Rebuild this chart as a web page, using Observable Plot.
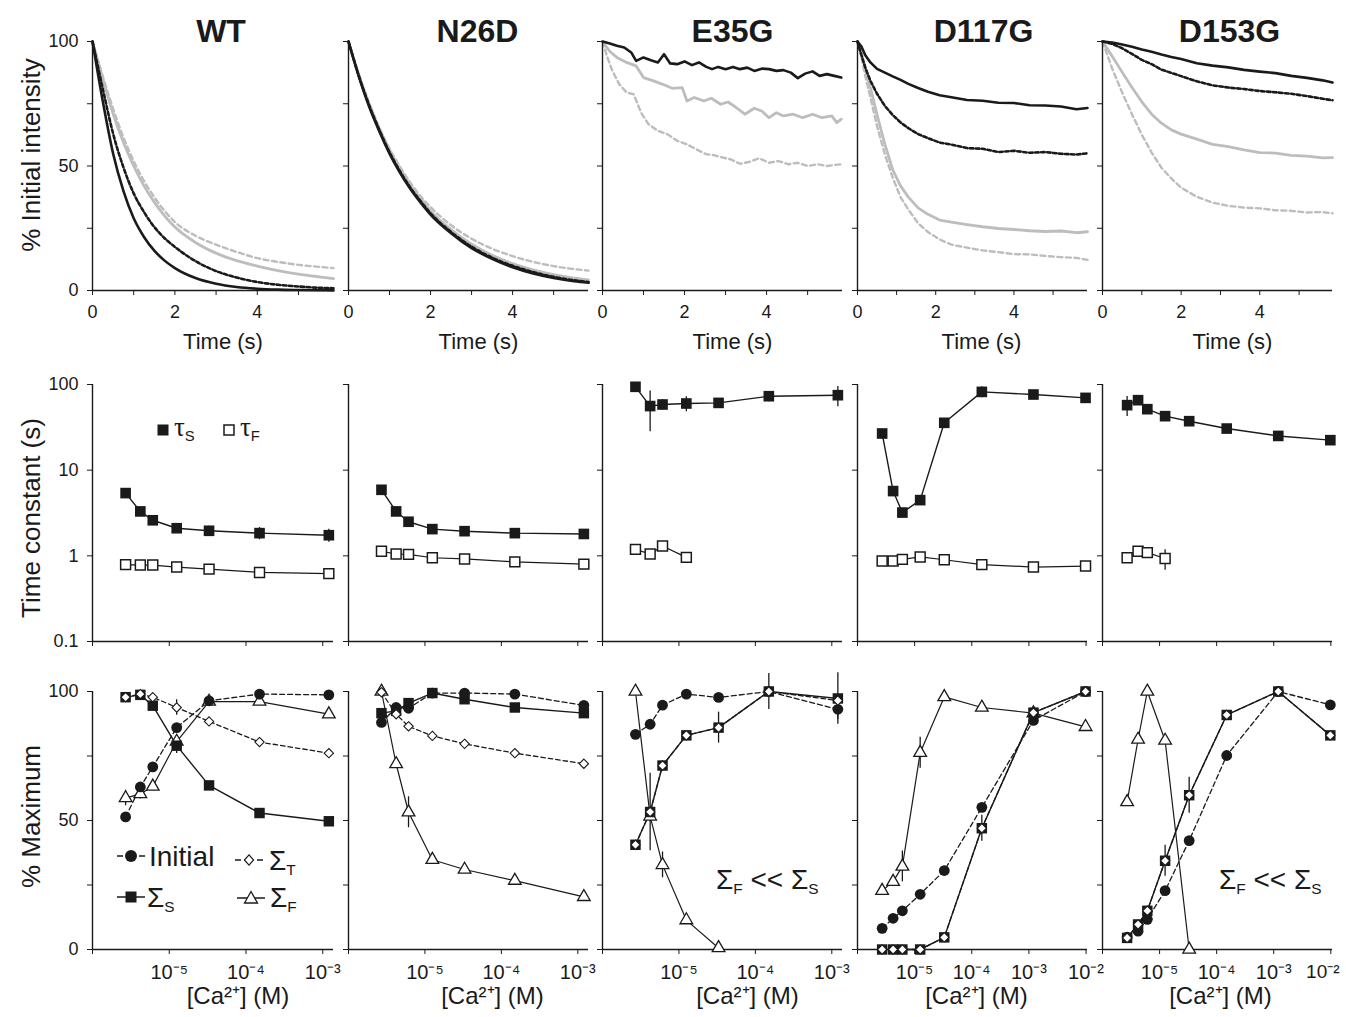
<!DOCTYPE html>
<html>
<head>
<meta charset="utf-8">
<script src="https://cdn.jsdelivr.net/npm/d3@7"></script>
<script src="https://cdn.jsdelivr.net/npm/@observablehq/plot@0.6"></script>
<style>
html,body{margin:0;padding:0;background:#fff;}
#fig{position:relative;width:1346px;height:1017px;overflow:hidden;background:#fff;font-family:"Liberation Sans",Arial,Helvetica,sans-serif;color:#1a1a1a;}
.lab{position:absolute;white-space:nowrap;}
.lab .sub{font-size:0.55em;position:relative;top:0.32em;}
</style>
</head>
<body>
<div id="fig"></div>
<script>
// ---------------- labels / ticks ----------------
const panelNames = ["WT", "N26D", "E35G", "D117G", "D153G"];
const timeTicks = [0, 1, 2, 3, 4, 5];
const timeTickLabels = ["0", "", "2", "", "4", ""];
const pctTicks = [0, 25, 50, 75, 100];
const pctTickLabels = ["0", "", "50", "", "100"];
const tauTicks = [0.1, 1, 10, 100];
const tauTickLabels = ["0.1", "1", "10", "100"];
const caTicks = [1e-6, 1e-5, 1e-4, 1e-3, 1e-2];
const caTickLabels = ["", "10⁻⁵", "10⁻⁴", "10⁻³", "10⁻²"];

// ---------------- top row: % initial intensity vs time ----------------
const smoothT = [0, 0.25, 0.5, 0.75, 1, 1.25, 1.5, 1.75, 2, 2.5, 3, 3.5, 4, 4.5, 5, 5.5, 5.85];
const wtBlackSolid = [100, 76, 55, 40, 29, 21.5, 16, 12, 9, 5, 2.7, 1.4, 0.7, 0.35, 0.2, 0.1, 0.05];
const wtBlackDashed = [100, 81, 63, 49.5, 39, 31.5, 25.5, 21, 17.5, 11.8, 7.8, 5.2, 3.4, 2.3, 1.6, 1.1, 0.9];
const wtGraySolid = [100, 85, 71, 59.5, 50, 42, 35.5, 30, 25.5, 19.3, 15, 12, 9.8, 8, 6.6, 5.5, 4.8];
const wtGrayDashed = [100, 86, 73, 61.5, 52, 44, 37.5, 32, 27.5, 22, 18.4, 15.5, 13, 11.5, 10.3, 9.5, 9];

const n26dBlackSolid = [100, 86, 74, 64, 55, 47.5, 41, 35.5, 30.5, 23, 17, 12.7, 9.3, 6.8, 5, 3.7, 3.1];
const n26dBlackDashed = [100, 86.3, 74.5, 64.5, 55.5, 48, 41.5, 36, 31, 23.5, 17.6, 13.2, 9.9, 7.4, 5.5, 4.1, 3.4];
const n26dGraySolid = [100, 86.5, 75, 65, 56.5, 49, 42.5, 37, 32, 24.5, 18.6, 14.2, 10.8, 8.3, 6.4, 5, 4.3];
const n26dGrayDashed = [100, 87, 75.5, 65.5, 57, 49.8, 43.5, 38, 33.5, 26.2, 20.8, 16.8, 13.8, 11.5, 9.8, 8.6, 8];

const e35gBlackT = [0, 0.18, 0.35, 0.53, 0.7, 0.82, 1.0, 1.18, 1.35, 1.5, 1.65, 1.82, 2.0, 2.18, 2.35, 2.53, 2.67, 2.82, 3.0, 3.18, 3.35, 3.53, 3.7, 3.88, 4.06, 4.24, 4.41, 4.59, 4.76, 4.94, 5.12, 5.29, 5.47, 5.65, 5.82];
const e35gBlackSolid = [100, 99.2, 98.3, 97.6, 95.6, 92.2, 93.6, 92.5, 91.6, 94.9, 91.2, 90.9, 92, 90.5, 91.6, 89.8, 88.9, 89.8, 88.9, 89.8, 88.9, 89.5, 88.2, 89.1, 88.9, 88.2, 88.5, 87.5, 85.3, 87.1, 88, 86.2, 86.9, 86.2, 85.5];
const e35gGraySolidT = [0, 0.18, 0.35, 0.6, 0.82, 1.0, 1.24, 1.47, 1.7, 1.94, 2.06, 2.24, 2.47, 2.65, 2.88, 3.06, 3.24, 3.47, 3.7, 3.88, 4.06, 4.24, 4.41, 4.65, 4.88, 5.12, 5.35, 5.59, 5.71, 5.82];
const e35gGraySolid = [100, 96, 93.6, 91.5, 90.2, 85.5, 84.2, 82.8, 81.2, 81.5, 76.1, 77.5, 76.1, 77.2, 74.8, 75.7, 73.7, 70.8, 73.2, 72.1, 69.4, 71.4, 70.1, 70.8, 69.4, 70.8, 69.4, 70.1, 67.4, 68.8];
const e35gGrayDashedT = [0, 0.12, 0.24, 0.41, 0.59, 0.76, 0.94, 1.12, 1.35, 1.59, 1.82, 2.06, 2.29, 2.53, 2.71, 2.88, 3.12, 3.35, 3.59, 3.82, 4.06, 4.29, 4.53, 4.76, 5.0, 5.24, 5.47, 5.65, 5.82];
const e35gGrayDashed = [100, 93.6, 88.2, 82.8, 79.5, 78.8, 71.4, 66.8, 64.1, 62.7, 60.1, 58.7, 56.7, 54.7, 54.4, 53.6, 52.7, 50.9, 51.7, 53.1, 51.3, 52, 50.7, 51.3, 50, 50.7, 50, 50.4, 50.7];

const d117gT = [0, 0.1, 0.2, 0.33, 0.5, 0.7, 0.9, 1.1, 1.3, 1.55, 1.8, 2.1, 2.4, 2.8, 3.2, 3.6, 4.0, 4.4, 4.8, 5.2, 5.6, 5.88];
const d117gBlackSolid = [100, 98, 94.5, 91.6, 89, 87.5, 86, 84.6, 83, 81.3, 79.8, 78.4, 77.6, 76.5, 76.2, 75.4, 75.3, 74.4, 74.3, 73.9, 72.8, 73.3];
const d117gBlackDashed = [100, 94.5, 89.5, 84.2, 79, 74.1, 70.5, 67.5, 65.2, 62.8, 61.2, 59.4, 58.6, 57.2, 56.9, 55.6, 56.1, 55.3, 55.6, 54.9, 54.6, 55.1];
const d117gGraySolid = [100, 95.5, 89, 81.5, 70.5, 58.7, 48.5, 42, 37.5, 33.2, 30.6, 28.3, 27.5, 26.5, 25.6, 24.9, 24.5, 24.0, 23.7, 23.9, 23.2, 23.6];
const d117gGrayDashed = [100, 94, 86, 77.5, 66, 54.7, 45.3, 37.5, 32.5, 27, 23.5, 20.5, 18.4, 17.2, 16.1, 15.4, 14.6, 14.5, 13.9, 13.4, 13.1, 12.3];

const d153gT = [0, 0.25, 0.5, 0.75, 1.0, 1.25, 1.5, 1.75, 2.0, 2.4, 2.8, 3.2, 3.6, 4.0, 4.4, 4.8, 5.2, 5.6, 5.85];
const d153gBlackSolid = [100, 99.6, 98.8, 97.9, 96.8, 95.9, 94.8, 93.8, 93.0, 91.3, 90.3, 89.6, 88.6, 87.9, 87.3, 86.2, 85.4, 84.4, 83.5];
const d153gBlackDashed = [100, 99, 97.3, 95, 92.6, 90.9, 88.7, 87.4, 86.1, 84, 82.4, 81.5, 80.9, 80.1, 79.6, 79, 78.1, 77, 76.4];
const d153gGraySolid = [100, 94, 87.7, 81.5, 75.8, 70.8, 67.2, 64.5, 62.8, 60.8, 58.7, 57.8, 56.5, 55.4, 55.2, 54.3, 54.0, 53.3, 53.4];
const d153gGrayDashed = [100, 89, 79.5, 70.8, 62.5, 55.4, 49.3, 45, 41.3, 37.6, 35.3, 34, 33.3, 33, 32.2, 32, 31.3, 31.5, 31];

// ---------------- middle row: time constants vs [Ca2+] ----------------
const caConc = [2.7e-6, 4.2e-6, 6.1e-6, 1.25e-5, 3.3e-5, 1.5e-4, 1.2e-3, 9.8e-3];
const wtTauS = [5.4, 3.3, 2.6, 2.1, 1.96, 1.84, 1.74];
const wtTauSErr = [0, 0, 0, 0.12, 0.25, 0.3, 0.3];
const wtTauF = [0.79, 0.78, 0.78, 0.74, 0.70, 0.64, 0.62];
const n26dTauS = [5.9, 3.3, 2.5, 2.05, 1.94, 1.84, 1.8];
const n26dTauF = [1.13, 1.05, 1.04, 0.95, 0.92, 0.85, 0.80];
const e35gTauS = [94, 56, 58.4, 60, 61, 73, 75];
const e35gTauSErr = [0, 28, 8, 12, 0, 10, 20];
const e35gTauF = [1.19, 1.05, 1.30, 0.96];
const e35gTauFErr = [0, 0.1, 0.12, 0];
const d117gTauS = [26.8, 5.7, 3.2, 4.47, 35.7, 82, 76.4, 69.8];
const d117gTauSErr = [0, 0, 0, 0, 0, 12, 0, 0];
const d117gTauF = [0.87, 0.87, 0.91, 0.97, 0.90, 0.79, 0.74, 0.76];
const d153gTauS = [57.4, 65.6, 51.5, 42.7, 37.3, 30.6, 25.1, 22.4];
const d153gTauSErr = [15, 0, 0, 0, 0, 0, 0, 0];
const d153gTauF = [0.95, 1.13, 1.09, 0.93];
const d153gTauFErr = [0, 0, 0.15, 0.25];

// ---------------- bottom row: % maximum vs [Ca2+] ----------------
const wtInitial = [51.4, 63, 70.8, 86, 96.4, 99, 98.7];
const wtSigS = [97.8, 98.7, 94.5, 79, 63.6, 52.9, 49.7];
const wtSigSErr = [0, 0, 0, 3, 0, 0, 0];
const wtSigT = [97.8, 99, 97.8, 93.8, 88.4, 80.4, 76.1];
const wtSigTErr = [0, 0, 0, 3, 0, 0, 0];
const wtSigF = [58.7, 60.3, 63.2, 80.6, 96.1, 96.1, 91.2];
const wtSigFErr = [3, 2, 0, 0, 0, 0, 0];
const n26dInitial = [88, 93.8, 93.5, 99.4, 99.4, 99, 94.6];
const n26dSigS = [91.6, 92.5, 95.5, 99.4, 97, 93.8, 91.6];
const n26dSigT = [99.7, 91.2, 86.5, 82.8, 79.7, 76.1, 72];
const n26dSigF = [100, 71.9, 53.2, 34.8, 31, 26.7, 20.4];
const n26dSigFErr = [0, 0, 6, 0, 0, 0, 0];
const e35gInitial = [83.4, 87.3, 94.7, 99, 97.7, 100, 93.1];
const e35gInitialErr = [0, 0, 0, 0, 0, 0, 4];
const e35gSigS = [40.6, 53.3, 71.3, 83, 86, 100, 97.3];
const e35gSigSErr = [0, 15, 0, 0, 6, 7, 10];
const e35gSigT = [40.6, 53.3, 71.3, 83, 86, 100, 96.5];
const e35gSigF = [100, 51.6, 32.8, 11.4, 0.6];
const e35gSigFErr = [0, 0, 5, 0, 0];
const d117gInitial = [8.2, 12.1, 15, 21.4, 30.6, 55.1, 88.8, 100];
const d117gSigS = [0, 0, 0, 0, 4.7, 47, 91.8, 100];
const d117gSigSErr = [0, 0, 0, 0, 0, 5, 0, 0];
const d117gSigT = [0, 0, 0, 0, 4.7, 47, 91.8, 100];
const d117gSigF = [22.8, 26.3, 32.2, 76.3, 97.9, 93.8, 91.6, 86.3];
const d117gSigFErr = [0, 0, 6, 6, 0, 0, 0, 0];
const d153gInitial = [4.8, 7.1, 11.7, 22.8, 42.2, 75.2, 100, 94.8];
const d153gSigS = [4.5, 9.7, 15, 34.4, 59.8, 90.9, 100, 83];
const d153gSigSErr = [0, 0, 0, 6, 7, 0, 0, 0];
const d153gSigT = [4.5, 9.7, 15, 34.4, 59.8, 90.9, 100, 83];
const d153gSigF = [57.2, 81.4, 100, 81, 0];

// ---------------- assemble ----------------
const topSeries = [
  [{t: smoothT, v: wtGrayDashed, kind: "grayDashed"}, {t: smoothT, v: wtGraySolid, kind: "graySolid"},
   {t: smoothT, v: wtBlackDashed, kind: "blackDashed"}, {t: smoothT, v: wtBlackSolid, kind: "blackSolid"}],
  [{t: smoothT, v: n26dGrayDashed, kind: "grayDashed"}, {t: smoothT, v: n26dGraySolid, kind: "graySolid"},
   {t: smoothT, v: n26dBlackDashed, kind: "blackDashed"}, {t: smoothT, v: n26dBlackSolid, kind: "blackSolid"}],
  [{t: e35gGrayDashedT, v: e35gGrayDashed, kind: "grayDashed"}, {t: e35gGraySolidT, v: e35gGraySolid, kind: "graySolid"},
   {t: e35gBlackT, v: e35gBlackSolid, kind: "blackSolid"}],
  [{t: d117gT, v: d117gGrayDashed, kind: "grayDashed"}, {t: d117gT, v: d117gGraySolid, kind: "graySolid"},
   {t: d117gT, v: d117gBlackDashed, kind: "blackDashed"}, {t: d117gT, v: d117gBlackSolid, kind: "blackSolid"}],
  [{t: d153gT, v: d153gGrayDashed, kind: "grayDashed"}, {t: d153gT, v: d153gGraySolid, kind: "graySolid"},
   {t: d153gT, v: d153gBlackDashed, kind: "blackDashed"}, {t: d153gT, v: d153gBlackSolid, kind: "blackSolid"}]
];
const smoothPanels = [true, true, false, false, false];

const tauSeries = [
  {s: wtTauS, sErr: wtTauSErr, f: wtTauF},
  {s: n26dTauS, f: n26dTauF},
  {s: e35gTauS, sErr: e35gTauSErr, f: e35gTauF, fErr: e35gTauFErr},
  {s: d117gTauS, sErr: d117gTauSErr, f: d117gTauF},
  {s: d153gTauS, sErr: d153gTauSErr, f: d153gTauF, fErr: d153gTauFErr}
];
const sumSeries = [
  {ini: wtInitial, S: wtSigS, SErr: wtSigSErr, T: wtSigT, TErr: wtSigTErr, F: wtSigF, FErr: wtSigFErr},
  {ini: n26dInitial, S: n26dSigS, T: n26dSigT, F: n26dSigF, FErr: n26dSigFErr},
  {ini: e35gInitial, iniErr: e35gInitialErr, S: e35gSigS, SErr: e35gSigSErr, T: e35gSigT, F: e35gSigF, FErr: e35gSigFErr},
  {ini: d117gInitial, S: d117gSigS, SErr: d117gSigSErr, T: d117gSigT, F: d117gSigF, FErr: d117gSigFErr},
  {ini: d153gInitial, S: d153gSigS, SErr: d153gSigSErr, T: d153gSigT, F: d153gSigF}
];

// ---------------- layout ----------------
const fig = document.getElementById("fig");
const FONT = '"Liberation Sans", Arial, Helvetica, sans-serif';
const colLeft = [92, 348, 602, 857, 1102];
const colRight = [333, 588, 842, 1087, 1332];
const timeMax = [5.85, 5.85, 5.85, 5.88, 5.85];
const caMax = [1.38e-3, 1.38e-3, 1.38e-3, 1.06e-2, 1.07e-2];
const caTickCount = [4, 4, 4, 5, 5];
const titleDx = [8, 9, 10, 11, 12];
const timeLabelDx = [10, 10, 10, 9, 15];
const caLabelDx = [25, 24, 25, 4, 3];
const ML = 75, MR = 20;
const ROW = {
  top: {y0: 41, h: 249, mt: 41, mb: 70},
  mid: {y0: 383.5, h: 257, mt: 10, mb: 25},
  bot: {y0: 691, h: 258, mt: 15, mb: 68}
};
const INK = "#1a1a1a";
const GRAY = "#bdbdbd";
const kindStyle = {
  blackSolid: {stroke: INK, strokeWidth: 2.6},
  blackDashed: {stroke: INK, strokeWidth: 2.6, strokeDasharray: "3.5,2.5"},
  graySolid: {stroke: GRAY, strokeWidth: 2.8},
  grayDashed: {stroke: GRAY, strokeWidth: 2.4, strokeDasharray: "5,3.5"}
};

function fmt(ticks, labels) {
  return d => {
    const k = ticks.findIndex(v => v === d || Math.abs(v - d) <= Math.abs(v) * 1e-6);
    return k < 0 ? "" : labels[k];
  };
}
const blank = () => "";
function baseStyle(fs) {
  return {background: "transparent", overflow: "visible", fontFamily: FONT, fontSize: fs + "px", color: INK};
}
function dims(i, row) {
  const R = ROW[row];
  return {width: colRight[i] - colLeft[i] + ML + MR, height: R.h + R.mt + R.mb,
          marginLeft: ML, marginRight: MR, marginTop: R.mt, marginBottom: R.mb};
}
function mount(svg, i, row) {
  svg.style.position = "absolute";
  svg.style.left = (colLeft[i] - ML) + "px";
  svg.style.top = (ROW[row].y0 - ROW[row].mt) + "px";
  fig.appendChild(svg);
}
function pts(xs, ys, errs) {
  return ys.map((v, j) => ({c: xs[j], v, err: errs ? errs[j] : 0}));
}
const axisLine = {stroke: INK, strokeWidth: 1.4};
const lineTxt = {text: d => d};

for (let i = 0; i < 5; i++) {
  // ---- top ----
  const tDom = [0, timeMax[i]];
  const topMarks = [];
  for (const s of topSeries[i]) {
    const data = s.t.map((t, j) => ({t, v: s.v[j]}));
    topMarks.push(Plot.line(data, {x: "t", y: "v", curve: smoothPanels[i] ? "monotone-x" : "linear", ...kindStyle[s.kind]}));
  }
  topMarks.push(Plot.ruleX([tDom[0]], axisLine));
  topMarks.push(Plot.ruleY([pctTicks[0]], axisLine));
  topMarks.push(Plot.text([panelNames[i]], {...lineTxt, frameAnchor: "top", lineAnchor: "bottom", dx: titleDx[i], fontSize: 32, fontWeight: "bold"}));
  topMarks.push(Plot.text(["Time (s)"], {...lineTxt, frameAnchor: "bottom", lineAnchor: "bottom", dy: 58, dx: timeLabelDx[i], fontSize: 22}));
  if (i === 0) topMarks.push(Plot.text(["% Initial intensity"], {...lineTxt, frameAnchor: "left", textAnchor: "middle", lineAnchor: "middle", rotate: -90, dx: -61, dy: -11, fontSize: 26}));
  const topSvg = Plot.plot({
    ...dims(i, "top"), style: baseStyle(18),
    x: {domain: tDom, ticks: timeTicks, tickFormat: fmt(timeTicks, timeTickLabels), tickSize: 5, tickPadding: 10, label: null},
    y: {domain: [0, 100], ticks: pctTicks, tickFormat: i === 0 ? fmt(pctTicks, pctTickLabels) : blank, tickSize: 5, tickPadding: 9, label: null},
    marks: topMarks
  });
  mount(topSvg, i, "top");

  // ---- middle ----
  const ts = tauSeries[i];
  const sRows = pts(caConc, ts.s, ts.sErr);
  const fRows = pts(caConc, ts.f, ts.fErr);
  const errRows = sRows.concat(fRows).filter(d => d.err > 0);
  const cTicks = caTicks.slice(0, caTickCount[i]);
  const midMarks = [
    Plot.ruleX([caTicks[0]], axisLine),
    Plot.ruleY([tauTicks[0]], axisLine),
    Plot.line(sRows, {x: "c", y: "v", stroke: INK, strokeWidth: 1.4}),
    Plot.line(fRows, {x: "c", y: "v", stroke: INK, strokeWidth: 1.2}),
    Plot.ruleX(errRows, {x: "c", y1: d => d.v - d.err, y2: d => d.v + d.err, stroke: INK, strokeWidth: 1.3}),
    Plot.dot(fRows, {x: "c", y: "v", symbol: "square", r: 5.6, fill: "white", stroke: INK, strokeWidth: 1.5}),
    Plot.dot(sRows, {x: "c", y: "v", symbol: "square", r: 6, fill: INK})
  ];
  if (i === 0) midMarks.push(Plot.text(["Time constant (s)"], {...lineTxt, frameAnchor: "left", textAnchor: "middle", lineAnchor: "middle", rotate: -90, dx: -61, dy: 5, fontSize: 26}));
  const midSvg = Plot.plot({
    ...dims(i, "mid"), style: baseStyle(18),
    x: {type: "log", domain: [caTicks[0], caMax[i]], ticks: cTicks, tickFormat: blank, tickSize: 5, tickPadding: 4, label: null},
    y: {type: "log", domain: [tauTicks[0], tauTicks[3]], ticks: tauTicks, tickFormat: i === 0 ? fmt(tauTicks, tauTickLabels) : blank, tickSize: 5, tickPadding: 9, label: null},
    marks: midMarks
  });
  mount(midSvg, i, "mid");

  // ---- bottom ----
  const ss = sumSeries[i];
  const iniRows = pts(caConc, ss.ini, ss.iniErr);
  const SRows = pts(caConc, ss.S, ss.SErr);
  const TRows = pts(caConc, ss.T, ss.TErr);
  const FRows = pts(caConc, ss.F, ss.FErr);
  const bErr = [...iniRows, ...SRows, ...TRows, ...FRows].filter(d => d.err > 0);
  const botMarks = [
    Plot.ruleX([caTicks[0]], axisLine),
    Plot.ruleY([pctTicks[0]], axisLine),
    Plot.line(FRows, {x: "c", y: "v", stroke: INK, strokeWidth: 1.2}),
    Plot.line(SRows, {x: "c", y: "v", stroke: INK, strokeWidth: 1.4}),
    Plot.line(TRows, {x: "c", y: "v", stroke: INK, strokeWidth: 1.3, strokeDasharray: "4.5,3"}),
    Plot.line(iniRows, {x: "c", y: "v", stroke: INK, strokeWidth: 1.3, strokeDasharray: "5,3"}),
    Plot.ruleX(bErr, {x: "c", y1: d => d.v - d.err, y2: d => d.v + d.err, stroke: INK, strokeWidth: 1.3}),
    Plot.dot(FRows, {x: "c", y: "v", symbol: "triangle", r: 4.7, fill: "white", stroke: INK, strokeWidth: 1.3}),
    Plot.dot(iniRows, {x: "c", y: "v", r: 5.4, fill: INK}),
    Plot.dot(SRows, {x: "c", y: "v", symbol: "square", r: 5.9, fill: INK}),
    Plot.dot(TRows, {x: "c", y: "v", symbol: d3.symbolDiamond2, r: 4.2, fill: "white", stroke: INK, strokeWidth: 1.1}),
    Plot.text(["[Ca²⁺] (M)"], {...lineTxt, frameAnchor: "bottom", lineAnchor: "bottom", dy: 54, dx: caLabelDx[i], fontSize: 24})
  ];
  if (i === 0) botMarks.push(Plot.text(["% Maximum"], {...lineTxt, frameAnchor: "left", textAnchor: "middle", lineAnchor: "middle", rotate: -90, dx: -61, dy: -4, fontSize: 26}));
  const botSvg = Plot.plot({
    ...dims(i, "bot"), style: baseStyle(18),
    x: {type: "log", domain: [caTicks[0], caMax[i]], ticks: cTicks, tickFormat: fmt(caTicks, caTickLabels), tickSize: 5, tickPadding: 10, label: null},
    y: {domain: [0, 100], ticks: pctTicks, tickFormat: i === 0 ? fmt(pctTicks, pctTickLabels) : blank, tickSize: 5, tickPadding: 9, label: null},
    marks: botMarks
  });
  const xLabels = Array.from(botSvg.querySelectorAll('[aria-label^="x-axis"] text'));
  xLabels.forEach(t => t.setAttribute("font-size", "20"));
  // keep the right-most label of the last panel inside the page
  if (i === 4) {
    const last = xLabels.filter(t => t.textContent.trim() !== "").pop();
    if (last) { last.setAttribute("dx", "-8"); last.setAttribute("font-size", "19"); }
  }
  mount(botSvg, i, "bot");
}

// ---------------- legends & annotations (HTML) ----------------
function lab(html, x, base, fs, family) {
  const d = document.createElement("div");
  d.className = "lab";
  d.innerHTML = html;
  Object.assign(d.style, {left: x + "px", top: (base - 0.85 * fs) + "px", fontSize: fs + "px", lineHeight: fs + "px"});
  if (family) d.style.fontFamily = family;
  fig.appendChild(d);
}
function swatch(cx, cy, shape, line) {
  const w = 36, h = 20, m = w / 2, c = h / 2;
  let s = `<svg xmlns="http://www.w3.org/2000/svg" width="${w}" height="${h}" style="position:absolute;left:${cx - m}px;top:${cy - c}px;overflow:visible">`;
  if (line === "solid") s += `<line x1="${m - 14}" x2="${m + 14}" y1="${c}" y2="${c}" stroke="${INK}" stroke-width="1.5"/>`;
  if (line === "dashed") s += `<line x1="${m - 14}" x2="${m - 8}" y1="${c}" y2="${c}" stroke="${INK}" stroke-width="1.5"/><line x1="${m + 8}" x2="${m + 14}" y1="${c}" y2="${c}" stroke="${INK}" stroke-width="1.5"/>`;
  if (shape === "squareFilled") s += `<rect x="${m - 5.5}" y="${c - 5.5}" width="11" height="11" fill="${INK}"/>`;
  if (shape === "squareOpen") s += `<rect x="${m - 5}" y="${c - 5}" width="10" height="10" fill="white" stroke="${INK}" stroke-width="1.5"/>`;
  if (shape === "circle") s += `<circle cx="${m}" cy="${c}" r="6" fill="${INK}"/>`;
  if (shape === "diamond") s += `<path d="M${m},${c - 5.2}L${m + 4.6},${c}L${m},${c + 5.2}L${m - 4.6},${c}Z" fill="white" stroke="${INK}" stroke-width="1.2"/>`;
  if (shape === "triangle") s += `<path d="M${m},${c - 6.5}L${m + 6.5},${c + 5}L${m - 6.5},${c + 5}Z" fill="white" stroke="${INK}" stroke-width="1.3"/>`;
  s += "</svg>";
  const d = document.createElement("div");
  d.innerHTML = s;
  fig.appendChild(d.firstChild);
}
const SERIF = '"Liberation Serif", "DejaVu Serif", serif';
// middle legend
swatch(163, 430, "squareFilled", null);
lab('τ<span class="sub" style="font-family:' + FONT.replace(/"/g, "'") + '">S</span>', 174, 437, 27, SERIF);
swatch(229, 430, "squareOpen", null);
lab('τ<span class="sub" style="font-family:' + FONT.replace(/"/g, "'") + '">F</span>', 240, 437, 27, SERIF);
// bottom legend
swatch(131, 856, "circle", "dashed");
lab("Initial", 149, 867, 28);
swatch(249, 860, "diamond", "dashed");
lab('Σ<span class="sub">T</span>', 269, 871, 28);
swatch(131, 897, "squareFilled", "solid");
lab('Σ<span class="sub">S</span>', 147, 908, 28);
swatch(251, 898, "triangle", "solid");
lab('Σ<span class="sub">F</span>', 270, 908, 28);
// annotations
lab('Σ<span class="sub">F</span> &lt;&lt; Σ<span class="sub">S</span>', 716, 890, 28);
lab('Σ<span class="sub">F</span> &lt;&lt; Σ<span class="sub">S</span>', 1219, 890, 28);
</script>
</body>
</html>
